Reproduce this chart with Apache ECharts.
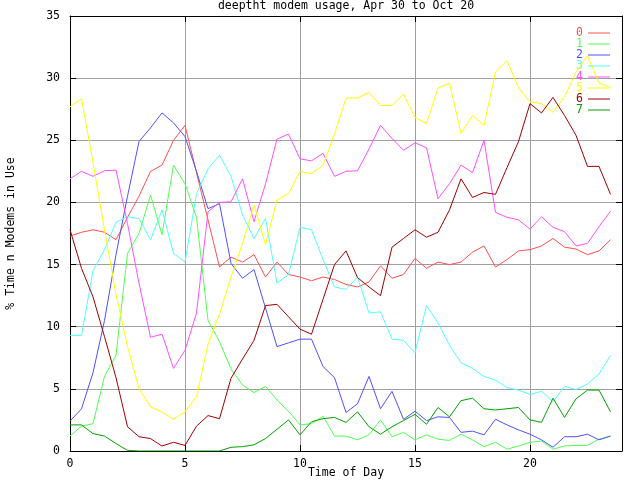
<!DOCTYPE html>
<html>
<head>
<meta charset="utf-8">
<script src="https://cdn.jsdelivr.net/npm/echarts@6/dist/echarts.min.js"></script>
<style>html,body{margin:0;padding:0;background:#fff}#c{width:640px;height:480px}</style>
</head>
<body>
<div id="c"></div>
<script>
const hours = [0,0.5,1,1.5,2,2.5,3,3.5,4,4.5,5,5.5,6,6.5,7,7.5,8,8.5,9,9.5,10,10.5,11,11.5,12,12.5,13,13.5,14,14.5,15,15.5,16,16.5,17,17.5,18,18.5,19,19.5,20,20.5,21,21.5,22,22.5,23,23.5];
const seriesNames = ['0','1','2','3','4','5','6','7'];
const xTicks = [0,5,10,15,20];
const yTicks = [0,5,10,15,20,25,30,35];
const modems0 = [17.3,17.6,17.8,17.6,17.0,18.8,20.5,22.5,23.0,25.0,26.2,22.4,18.6,14.8,15.6,15.2,15.8,14.0,15.2,14.2,14.0,13.7,14.0,13.8,13.4,13.2,13.6,14.9,13.9,14.2,15.5,14.7,15.2,15.0,15.2,16.0,16.5,14.8,15.4,16.1,16.2,16.5,17.1,16.4,16.25,15.8,16.1,17.0];
const modems1 = [1.2,2.0,2.2,6.0,7.7,15.9,17.5,20.6,17.4,23.0,21.5,18.8,10.5,8.8,6.6,5.3,4.7,5.2,4.1,3.2,2.1,2.2,2.8,1.2,1.2,0.9,1.3,2.5,1.15,1.5,0.9,1.3,0.95,0.85,1.35,0.9,0.35,0.7,0.15,0.4,0.7,0.8,0.15,0.4,0.45,0.45,0.95,1.2];
const modems2 = [2.4,3.4,6.3,10.5,15.8,20.5,24.9,26.0,27.2,26.4,25.3,22.5,19.5,19.9,15.1,13.9,14.6,11.5,8.4,8.7,9.0,9.0,6.8,5.9,3.1,3.8,6.0,3.4,4.8,2.55,3.2,2.45,2.75,2.7,1.5,1.6,1.3,2.55,2.1,1.7,1.35,0.9,0.3,1.15,1.15,1.35,0.9,1.2];
const modems3 = [9.3,9.3,14.5,16.2,18.4,18.85,18.7,17.0,19.4,15.9,15.2,20.7,22.7,23.8,22.1,19.0,17.1,18.7,13.5,14.2,18.0,17.8,15.4,13.2,13.0,14.0,11.1,11.2,9.0,8.9,7.9,11.7,10.3,8.5,7.1,6.65,6.0,5.7,5.1,4.9,4.55,4.8,3.95,5.2,4.95,5.4,6.2,7.7];
const modems4 = [21.9,22.5,22.1,22.55,22.6,18.3,13.5,9.15,9.4,6.65,8.1,11.1,19.25,20.0,20.05,21.9,18.45,21.5,25.1,25.5,23.5,23.35,23.95,22.1,22.5,22.55,24.3,26.2,25.15,24.2,24.8,24.4,20.3,21.5,23.0,22.4,25.0,19.2,18.8,18.6,17.85,18.85,18.0,17.65,16.5,16.7,18.05,19.3];
const modems5 = [27.7,28.35,23.2,17.8,12.6,8.4,5.0,3.55,3.15,2.55,3.15,4.35,8.6,11.0,14.0,16.7,19.8,16.6,20.2,20.7,22.5,22.3,23.0,25.5,28.4,28.4,28.85,27.8,27.8,28.7,26.85,26.35,29.2,29.6,25.55,27.0,26.2,30.5,31.4,29.2,28.1,27.95,27.25,28.5,30.5,31.8,29.6,29.25];
const modems6 = [17.8,14.7,12.4,9.2,5.9,1.95,1.15,1.0,0.4,0.7,0.45,2.0,2.85,2.6,5.85,7.4,8.9,11.7,11.8,10.8,9.8,9.4,12.2,15.0,16.1,13.95,13.2,12.5,16.4,17.1,17.8,17.2,17.6,19.4,21.9,20.4,20.8,20.65,22.8,24.9,27.95,27.2,28.45,27.0,25.4,22.9,22.9,20.65];
const modems7 = [2.1,2.1,1.4,1.2,0.6,0.05,0,0,0,0,0,0,0,0,0.3,0.35,0.5,1.0,1.75,2.5,1.3,2.35,2.6,2.7,2.3,3.15,1.95,1.35,1.95,2.45,2.95,2.15,3.5,2.75,4.05,4.25,3.4,3.3,3.4,3.5,2.5,2.3,4.25,2.7,4.2,4.9,4.9,3.15];

const allValues = [modems0,modems1,modems2,modems3,modems4,modems5,modems6,modems7];
const colors = ['#ff5050','#50ff50','#5050ff','#50ffff','#ff50ff','#ffff00','#a00000','#00a000'];
const FONT = '"DejaVu Sans Mono", "Liberation Mono", monospace';
const FS = 11.5;

const chart = echarts.init(document.getElementById('c'), null, {renderer:'canvas'});

function xAxisBase(pos) {
  return {
    type:'value', position: pos, min: xTicks[0], max: 24, interval: 5,
    axisLine:{show:true, onZero:false, lineStyle:{color:'#000', width:1}},
    axisTick:{show:true, inside:true, length:6, lineStyle:{color:'#000'}},
    splitLine:{show:false}
  };
}
function yAxisBase(pos) {
  return {
    type:'value', position: pos, min: yTicks[0], max: 35, interval: 5,
    axisLine:{show:true, onZero:false, lineStyle:{color:'#000', width:1}},
    axisTick:{show:true, inside:true, length:6, lineStyle:{color:'#000'}},
    splitLine:{show:false}
  };
}

const xBottom = Object.assign(xAxisBase('bottom'), {
  name:'Time of Day', nameLocation:'middle', nameGap:16, nameMoveOverlap:false,
  nameTextStyle:{fontFamily:FONT, fontSize:FS, color:'#000'},
  axisLabel:{show:true, margin:7, showMaxLabel:false, fontFamily:FONT, fontSize:FS, color:'#000'},
  splitLine:{show:true, showMinLine:false, showMaxLine:false, lineStyle:{color:'#a0a0a0', width:1}}
});
const xTop = Object.assign(xAxisBase('top'), {axisLabel:{show:false}});
const yLeft = Object.assign(yAxisBase('left'), {
  name:'% Time n Modems in Use', nameLocation:'middle', nameGap:53, nameMoveOverlap:false,
  nameTextStyle:{fontFamily:FONT, fontSize:FS, color:'#000'},
  axisLabel:{show:true, margin:10, fontFamily:FONT, fontSize:FS, color:'#000'},
  splitLine:{show:true, showMinLine:false, showMaxLine:false, lineStyle:{color:'#a0a0a0', width:1}}
});
const yRight = Object.assign(yAxisBase('right'), {axisLabel:{show:false}});

const series = seriesNames.map((n, i) => ({
  name: n, type:'line', xAxisIndex:0, yAxisIndex:0,
  data: hours.map((h, j) => [h, allValues[i][j]]),
  symbol:'none', showSymbol:false,
  lineStyle:{color:colors[i], width:1},
  itemStyle:{color:colors[i]},
  emphasis:{disabled:true},
  z: 3 + i
}));

chart.setOption({
  animation:false,
  backgroundColor:'#fff',
  title:{
    text:'deeptht modem usage, Apr 30 to Oct 20',
    left:346, top:0, padding:0, textAlign:'center',
    textStyle:{fontFamily:FONT, fontSize:FS, fontWeight:'normal', color:'#000'}
  },
  grid:{left:70, right:18, top:16, bottom:29, show:false, containLabel:false, outerBoundsMode:'none'},
  legend:{
    orient:'vertical', right:30, top:27, align:'right', padding:0,
    icon:'rect', itemWidth:22, itemHeight:1, itemGap:-1,
    selectedMode:false,
    itemStyle:{borderWidth:0},
    textStyle:{fontFamily:FONT, fontSize:FS, lineHeight:11},
    data: seriesNames.map((n, i) => ({name:n, textStyle:{color:colors[i]}}))
  },
  xAxis:[xBottom, xTop],
  yAxis:[yLeft, yRight],
  series: series
});
</script>
</body>
</html>
